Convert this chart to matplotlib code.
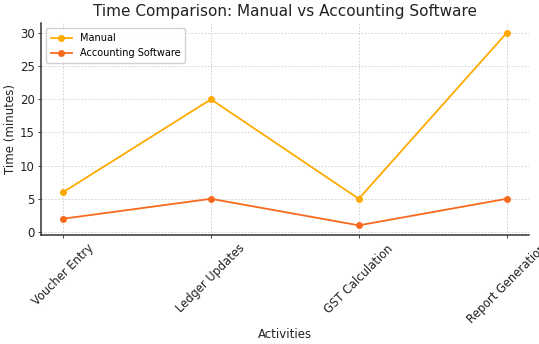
import matplotlib
matplotlib.use("Agg")
import matplotlib.pyplot as plt

activities = ["Voucher Entry", "Ledger Updates", "GST Calculation", "Report Generation"]
manual_minutes = [6, 20, 5, 30]
software_minutes = [2, 5, 1, 5]

fig = plt.figure(figsize=(5.39, 3.44), dpi=100)
ax = fig.add_axes([0.076, 0.317, 0.905, 0.615])

ax.plot(activities, manual_minutes, marker="o", markersize=4, linewidth=1.3,
        color="#FFAA00", label="Manual")
ax.plot(activities, software_minutes, marker="o", markersize=4, linewidth=1.3,
        color="#F96A1E", label="Accounting Software")

ax.set_title("Time Comparison: Manual vs Accounting Software", fontsize=11, color="#222222", pad=5)
ax.set_xlabel("Activities", fontsize=8.5, color="#222222", labelpad=1)
ax.set_ylabel("Time (minutes)", fontsize=8.5, color="#222222", labelpad=2)
ax.tick_params(axis="x", labelrotation=45, labelsize=8.3, colors="#222222",
               length=2.5, width=0.6, pad=2.5)
ax.tick_params(axis="y", labelsize=8.5, colors="#222222", length=2.5, width=0.6, pad=2)
for lbl in ax.get_xticklabels():
    lbl.set_ha("center")

ax.set_yticks([0, 5, 10, 15, 20, 25, 30])
ax.grid(True, linestyle=(0, (2, 2)), linewidth=0.6, color="#cccccc")
for side in ("top", "right"):
    ax.spines[side].set_visible(False)
for side in ("left", "bottom"):
    ax.spines[side].set_linewidth(1.1)
    ax.spines[side].set_color("#333333")

ax.legend(loc="upper left", fontsize=7, framealpha=0.9, borderpad=0.5,
          handlelength=2.2, labelspacing=0.5)

fig.savefig("out.png", dpi=100)
